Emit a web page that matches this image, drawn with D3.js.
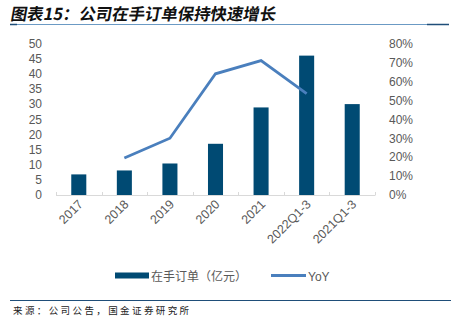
<!DOCTYPE html>
<html>
<head>
<meta charset="utf-8">
<script src="https://cdn.jsdelivr.net/npm/d3@7"></script>
<style>
  html, body { margin: 0; padding: 0; background: #fff; }
  svg { display: block; }
</style>
</head>
<body>
<svg id="chart" width="451" height="326"></svg>
<script>
// Order backlog (100 million yuan) and its year-on-year growth
const categories = ["2017", "2018", "2019", "2020", "2021", "2022Q1-3", "2021Q1-3"];
const backlog = [6.8, 8.1, 10.4, 16.9, 28.9, 46.0, 30.0];
const yoy = [null, 0.195, 0.30, 0.64, 0.71, 0.535, null];
const leftTicks = [0, 5, 10, 15, 20, 25, 30, 35, 40, 45, 50];
const rightTicks = [0, 0.1, 0.2, 0.3, 0.4, 0.5, 0.6, 0.7, 0.8];

const barColor = "#004a73";
const lineColor = "#4a7fbd";
const textColor = "#595959";
const font = "'Liberation Sans', Arial, 'Noto Sans CJK SC', sans-serif";

const svg = d3.select("#chart");

// Title with ruled underline
svg.append("text")
  .attr("x", 10).attr("y", 20)
  .attr("font-family", "'Noto Sans CJK SC', sans-serif")
  .attr("font-size", 16.4).attr("font-weight", "bold")
  .attr("fill", "#111")
  .attr("transform", "skewX(-10) translate(3.5,0)")
  .text("图表15：公司在手订单保持快速增长");
svg.append("line").attr("x1", 10).attr("x2", 449).attr("y1", 24.5).attr("y2", 24.5)
  .attr("stroke", "#6b9ac4").attr("stroke-width", 1);
svg.append("line").attr("x1", 10).attr("x2", 17).attr("y1", 24.5).attr("y2", 24.5)
  .attr("stroke", "#1f4e79").attr("stroke-width", 1.5);
svg.append("line").attr("x1", 427).attr("x2", 449).attr("y1", 24.5).attr("y2", 24.5)
  .attr("stroke", "#1f4e79").attr("stroke-width", 1.5);

// Scales
const x = d3.scaleBand().domain(categories).range([56, 375]).paddingInner(0.67).paddingOuter(0.335);
const xOuter = d3.scaleBand().domain(categories).range([56, 375]);
const yL = d3.scaleLinear().domain([0, 50]).range([195, 43.5]);
const yR = d3.scaleLinear().domain([0, 0.8]).range([195, 43.5]);

// Left axis
const leftAxis = svg.append("g").attr("transform", "translate(42,0)")
  .call(d3.axisLeft(yL).tickValues(leftTicks).tickSize(0).tickPadding(0));
leftAxis.select(".domain").remove();
leftAxis.selectAll("text").attr("font-family", font).attr("font-size", 12).attr("fill", textColor);

// Right axis
const rightAxis = svg.append("g").attr("transform", "translate(389,0)")
  .call(d3.axisRight(yR).tickValues(rightTicks).tickSize(0).tickPadding(0).tickFormat(d3.format(".0%")));
rightAxis.select(".domain").remove();
rightAxis.selectAll("text").attr("font-family", font).attr("font-size", 12).attr("fill", textColor);

// Category axis line with boundary ticks
svg.append("line").attr("x1", 56).attr("x2", 375).attr("y1", 195.5).attr("y2", 195.5)
  .attr("stroke", "#d9d9d9").attr("stroke-width", 1);
const bounds = categories.map(c => xOuter(c)).concat([xOuter.range()[1]]);
svg.append("g").selectAll("line").data(bounds).join("line")
  .attr("x1", d => Math.round(d) + 0.5).attr("x2", d => Math.round(d) + 0.5)
  .attr("y1", 192).attr("y2", 195.5)
  .attr("stroke", "#d9d9d9").attr("stroke-width", 1);

// Bars
svg.append("g").selectAll("rect").data(categories).join("rect")
  .attr("x", d => x(d))
  .attr("width", x.bandwidth())
  .attr("y", (d, i) => yL(backlog[i]))
  .attr("height", (d, i) => yL(0) - yL(backlog[i]))
  .attr("fill", barColor);

// YoY line
const line = d3.line()
  .defined(d => d.v !== null)
  .x(d => xOuter(d.c) + xOuter.bandwidth() / 2)
  .y(d => yR(d.v));
svg.append("path")
  .datum(categories.map((c, i) => ({ c, v: yoy[i] })))
  .attr("d", line)
  .attr("fill", "none")
  .attr("stroke", lineColor)
  .attr("stroke-width", 2.8);

// Rotated category labels
svg.append("g").selectAll("text").data(categories).join("text")
  .attr("transform", d => `translate(${xOuter(d) + xOuter.bandwidth() / 2 + 5},${205}) rotate(-45)`)
  .attr("text-anchor", "end")
  .attr("font-family", font).attr("font-size", 12.5).attr("fill", textColor)
  .text(d => d);

// Legend
const legend = svg.append("g");
legend.append("rect").attr("x", 115).attr("y", 272.5).attr("width", 34).attr("height", 6).attr("fill", barColor);
legend.append("text").attr("x", 151).attr("y", 280.5)
  .attr("font-family", font).attr("font-size", 12).attr("fill", textColor)
  .text("在手订单（亿元）");
legend.append("line").attr("x1", 271).attr("x2", 306).attr("y1", 275.5).attr("y2", 275.5)
  .attr("stroke", lineColor).attr("stroke-width", 3);
legend.append("text").attr("x", 308).attr("y", 280.5)
  .attr("font-family", font).attr("font-size", 12).attr("fill", textColor)
  .text("YoY");

// Source note
svg.append("line").attr("x1", 10).attr("x2", 451).attr("y1", 300.5).attr("y2", 300.5)
  .attr("stroke", "#1f4e79").attr("stroke-width", 1.2);
svg.append("text").attr("x", 13).attr("y", 314)
  .attr("font-family", "'Noto Sans CJK SC', sans-serif")
  .attr("font-size", 9.5).attr("letter-spacing", 2.4).attr("fill", "#222")
  .text("来源：公司公告，国金证券研究所");
</script>
</body>
</html>
